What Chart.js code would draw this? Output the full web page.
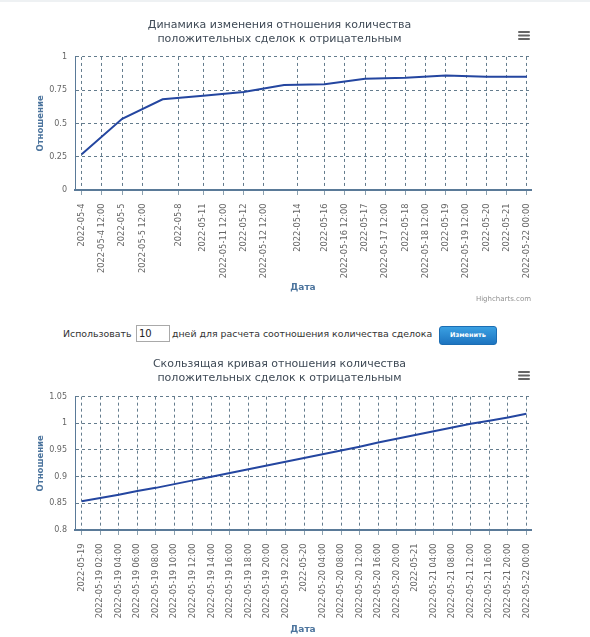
<!DOCTYPE html>
<html>
<head>
<meta charset="utf-8">
<script src="https://cdn.jsdelivr.net/npm/chart.js@4.4.1/dist/chart.umd.min.js"></script>
<style>
  body { margin: 0; background: #fff; font-family: "DejaVu Sans", Verdana, sans-serif; }
  #topline { position: absolute; left: 0; top: 0; width: 590px; height: 2px; background: #eef1f3; }
  .box { position: absolute; left: 28px; width: 510px; }
  #box1 { top: 0; height: 305px; }
  #box2 { top: 345px; height: 292px; }
  .menu { position: absolute; left: 518px; width: 12px; height: 2px; background: #666;
          box-shadow: 0 3.5px 0 #666, 0 7px 0 #666; border-radius: 1px; }
  .credit { position: absolute; right: 59px; top: 295px; font-size: 7px; color: #909090; }
  .txt { position: absolute; top: 328px; font-size: 9.4px; color: #333; white-space: nowrap; }
  #days { position: absolute; left: 136px; top: 325px; width: 28px; height: 13px; padding: 1px 2px;
          border: 1px solid #a9a9a9; font: 10px "DejaVu Sans", sans-serif; color: #222; }
  #btn { position: absolute; left: 439px; top: 326px; width: 58px; height: 19px; box-sizing: border-box;
         border: 1px solid #1b6db3; border-radius: 3px; color: #fff; font: bold 6.5px "DejaVu Sans", sans-serif;
         background: linear-gradient(#3aa0e2, #1d74c0); text-align: center; line-height: 17px; }
</style>
</head>
<body>
<div id="topline"></div>

<div class="box" id="box1"><canvas id="chart1"></canvas></div>
<div class="menu" style="top:31px"></div>
<div class="credit">Highcharts.com</div>

<span class="txt" style="left:63px">Использовать</span>
<input id="days" type="text" value="10">
<span class="txt" style="left:172px">дней для расчета соотношения количества сделока</span>
<div id="btn">Изменить</div>

<div class="box" id="box2"><canvas id="chart2"></canvas></div>
<div class="menu" style="top:371px"></div>

<script>
// Chart 1: dates of the points and their ratio
var pointDates1 = ['2022-05-4', '2022-05-5', '2022-05-6', '2022-05-11', '2022-05-12', '2022-05-13',
                   '2022-05-16', '2022-05-17', '2022-05-18', '2022-05-19', '2022-05-20', '2022-05-22'];
var ratio1 = [0.269, 0.535, 0.682, 0.709, 0.736, 0.789, 0.794, 0.836, 0.843, 0.861, 0.851, 0.851];
var tickLabels1 = ['2022-05-4', '2022-05-4 12:00', '2022-05-5', '2022-05-5 12:00', '2022-05-8',
                   '2022-05-11', '2022-05-11 12:00', '2022-05-12', '2022-05-12 12:00', '2022-05-14',
                   '2022-05-16', '2022-05-16 12:00', '2022-05-17', '2022-05-17 12:00', '2022-05-18',
                   '2022-05-18 12:00', '2022-05-19', '2022-05-19 12:00', '2022-05-20', '2022-05-21',
                   '2022-05-22 00:00'];

// Chart 2: moving ratio, one point per tick
var tickLabels2 = ['2022-05-19', '2022-05-19 02:00', '2022-05-19 04:00', '2022-05-19 06:00',
                   '2022-05-19 08:00', '2022-05-19 10:00', '2022-05-19 12:00', '2022-05-19 14:00',
                   '2022-05-19 16:00', '2022-05-19 18:00', '2022-05-19 20:00', '2022-05-19 22:00',
                   '2022-05-20', '2022-05-20 04:00', '2022-05-20 08:00', '2022-05-20 12:00',
                   '2022-05-20 16:00', '2022-05-20 20:00', '2022-05-21', '2022-05-21 04:00',
                   '2022-05-21 08:00', '2022-05-21 12:00', '2022-05-21 16:00', '2022-05-21 20:00',
                   '2022-05-22 00:00'];
var ratio2 = [0.854, 0.860, 0.866, 0.873, 0.879, 0.886, 0.893, 0.900, 0.907, 0.914, 0.921, 0.928,
              0.935, 0.942, 0.949, 0.956, 0.964, 0.971, 0.978, 0.985, 0.992, 0.999, 1.005, 1.011, 1.018];

var FONT = '"DejaVu Sans", Verdana, sans-serif';

function parseStamp(s) {
    var parts = s.split(' ');
    var d = parts[0].split('-').map(Number);
    var hm = parts[1] ? parts[1].split(':').map(Number) : [0, 0];
    return Date.UTC(d[0], d[1] - 1, d[2], hm[0], hm[1]);
}

// ordinal axis: points are evenly spaced, ticks sit between them by time
function ordinalPos(t, times) {
    for (var i = 0; i < times.length - 1; i++) {
        if (t <= times[i + 1]) return i + (t - times[i]) / (times[i + 1] - times[i]);
    }
    return times.length - 1;
}

function makeChart(id, o) {
    return new Chart(document.getElementById(id), {
        type: 'line',
        data: {
            datasets: [{
                data: o.values.map(function (v, i) { return { x: i, y: v }; }),
                borderColor: '#2446a0',
                borderWidth: 2,
                pointRadius: 0,
                tension: 0
            }]
        },
        options: {
            responsive: true,
            maintainAspectRatio: false,
            animation: false,
            layout: { padding: { left: 0, right: 7, top: 0, bottom: 0 } },
            plugins: {
                legend: { display: false },
                tooltip: { enabled: false },
                title: {
                    display: true,
                    text: o.title,
                    color: '#3f4a56',
                    font: { family: FONT, size: 11, weight: 'normal', lineHeight: 1.27 },
                    padding: o.titlePad
                }
            },
            scales: {
                x: {
                    type: 'linear',
                    min: o.xMin,
                    max: o.xMax,
                    afterBuildTicks: function (s) { s.ticks = o.tickPos.map(function (v) { return { value: v }; }); },
                    afterFit: function (s) {
                        s.height = o.xHeight;
                        s.paddingLeft = 0;
                        s.paddingRight = 0;
                    },
                    ticks: {
                        autoSkip: false,
                        minRotation: 90,
                        maxRotation: 90,
                        padding: 8.5,
                        color: '#666',
                        font: { family: FONT, size: 8.3 },
                        callback: function (v, i) { return o.tickLabels[i]; }
                    },
                    grid: { color: '#647c8d', lineWidth: 1, tickLength: 5, tickColor: '#8ea3b1' },
                    border: { display: true, color: '#5a7a98', width: 2, dash: [3, 3] },
                    title: {
                        display: true, text: 'Дата', color: '#4d759e',
                        font: { family: FONT, size: 9, weight: 'bold' },
                        padding: { top: 0, bottom: o.dataPad }
                    }
                },
                y: {
                    min: o.yMin,
                    max: o.yMax,
                    afterBuildTicks: function (s) {
                        var t = [];
                        for (var v = o.yMin; v <= o.yMax + 1e-9; v += o.yStep) t.push({ value: +v.toFixed(4) });
                        s.ticks = t;
                    },
                    afterFit: function (s) { s.width = 47; },
                    ticks: {
                        padding: 8,
                        color: '#666',
                        font: { family: FONT, size: 8 },
                        callback: function (v) { return String(+v.toFixed(2)); }
                    },
                    grid: { color: '#647c8d', lineWidth: 1, drawTicks: false },
                    border: { display: true, color: '#5a7a98', width: 1, dash: [3, 3] },
                    title: {
                        display: true, text: 'Отношение', color: '#4d759e',
                        font: { family: FONT, size: 8.5, weight: 'bold' },
                        padding: { top: 7.9, bottom: 0 }
                    }
                }
            }
        }
    });
}

var times1 = pointDates1.map(parseStamp);
makeChart('chart1', {
    title: ['Динамика изменения отношения количества', 'положительных сделок к отрицательным'],
    titlePad: { top: 18.3, bottom: 10.7 },
    values: ratio1,
    tickLabels: tickLabels1,
    tickPos: tickLabels1.map(function (s) { return ordinalPos(parseStamp(s), times1); }),
    xMin: -0.165, xMax: 11.1,
    xHeight: 115, dataPad: 12.3,
    yMin: 0, yMax: 1, yStep: 0.25
});

makeChart('chart2', {
    title: ['Скользящая кривая отношения количества', 'положительных сделок к отрицательным'],
    titlePad: { top: 12.4, bottom: 11.3 },
    values: ratio2,
    tickLabels: tickLabels2,
    tickPos: tickLabels2.map(function (s, i) { return i; }),
    xMin: -0.36, xMax: 24.25,
    xHeight: 107, dataPad: 1.6,
    yMin: 0.8, yMax: 1.05, yStep: 0.05
});
</script>
</body>
</html>
